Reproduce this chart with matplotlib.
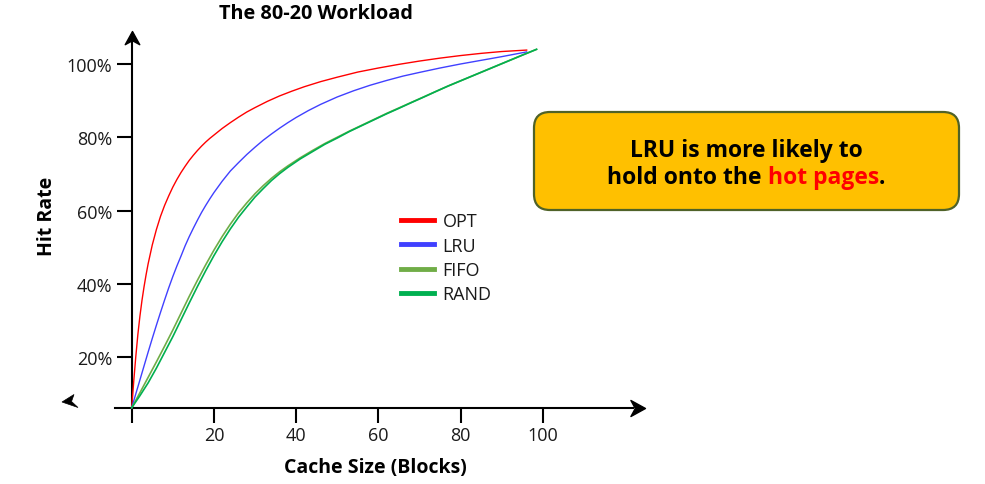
import matplotlib
matplotlib.use('Agg')
import numpy as np
import matplotlib.pyplot as plt
from matplotlib.lines import Line2D
from matplotlib.patches import FancyBboxPatch, Polygon
from matplotlib.offsetbox import TextArea, HPacker, AnnotationBbox
from matplotlib.path import Path
from matplotlib.transforms import IdentityTransform

plt.rcParams['font.family'] = ['Open Sans', 'DejaVu Sans']

# ---------------- data ----------------
series_names = ['OPT', 'LRU', 'FIFO', 'RAND']

opt_x = [0, 0.5, 1, 1.5, 2, 2.5, 3, 3.5, 4, 5, 6, 7, 8, 9, 10, 11, 12, 13,
         14, 15, 16, 17, 18, 19, 20, 22, 24, 26, 28, 30, 33, 36, 39, 42, 46,
         50, 55, 60, 65, 70, 75, 80, 85, 90, 96.1]
opt_y = [6.2, 13.5, 20.2, 26.2, 31.2, 35.5, 39.2, 42.5, 45.5, 50.6, 54.8,
         58.4, 61.4, 64, 66.4, 68.5, 70.4, 72.1, 73.7, 75.1, 76.4, 77.6, 78.7,
         79.7, 80.6, 82.4, 84.0, 85.5, 86.9, 88.1, 89.8, 91.3, 92.6, 93.8,
         95.2, 96.4, 97.8, 98.9, 99.9, 100.8, 101.6, 102.3, 102.9, 103.4,
         103.8]

lru_x = [0, 1, 2, 3, 4, 5, 6, 7, 8, 9, 10, 11, 12, 13, 14, 15, 16, 17, 18, 19,
         20, 22, 24, 26, 28, 30, 32, 34, 36, 38, 40, 43, 46, 50, 54, 58, 62,
         66, 70, 75, 80, 85, 90, 96.1]
lru_y = [6.2, 10.0, 13.8, 17.6, 21.4, 25.1, 28.7, 32.2, 35.6, 38.9, 42.0,
         44.9, 47.6, 50.4, 52.9, 55.2, 57.4, 59.5, 61.4, 63.2, 64.9, 68.0,
         70.8, 73.1, 75.3, 77.3, 79.2, 80.9, 82.5, 84.0, 85.4, 87.3, 89.0,
         91.0, 92.7, 94.2, 95.5, 96.7, 97.7, 98.9, 100.0, 101.0, 102.0, 103.3]

fifo_x = [0, 2, 4, 6, 8, 10, 12, 14, 16, 18, 20, 22, 24, 26, 28, 30, 32, 34,
          36, 38, 41, 44, 47, 50, 53, 56, 59, 62, 65, 68, 71, 74, 77, 80, 83,
          86, 89, 92, 95, 98.5]
fifo_y = [6.2, 10.3, 14.5, 18.7, 23, 27.4, 32, 36.6, 41.0, 45.2, 49.2, 52.9,
          56.3, 59.4, 62.1, 64.6, 66.8, 68.8, 70.6, 72.2, 74.4, 76.4, 78.3,
          80.0, 81.7, 83.3, 84.9, 86.5, 88.0, 89.5, 91.0, 92.5, 94.0, 95.4,
          96.8, 98.2, 99.6, 101.0, 102.4, 104]

rand_x = [0, 2, 4, 6, 8, 10, 12, 14, 16, 18, 20, 22, 24, 26, 28, 30, 32, 34,
          36, 38, 41, 44, 47, 50, 53, 56, 59, 62, 65, 68, 71, 74, 77, 80, 83,
          86, 89, 92, 95, 98.5]
rand_y = [6.2, 9.5, 13.0, 17.0, 21.3, 25.6, 30.2, 34.8, 39.3, 43.6, 47.7,
          51.5, 55.0, 58.2, 61.0, 63.7, 66.0, 68.2, 70.1, 71.8, 74.1, 76.1,
          78.1, 79.8, 81.6, 83.2, 84.8, 86.4, 87.9, 89.45, 90.95, 92.5, 94.0,
          95.4, 96.8, 98.2, 99.6, 101.0, 102.4, 104]

x_ticks = [0, 20, 40, 60, 80, 100]
x_tick_labels = ['', '20', '40', '60', '80', '100']
y_ticks = [20, 40, 60, 80, 100]
y_tick_labels = ['20%', '40%', '60%', '80%', '100%']

title = 'The 80-20 Workload'
x_label = 'Cache Size (Blocks)'
y_label = 'Hit Rate'
note_line1 = 'LRU is more likely to'
note_line2 = ['hold onto the ', 'hot pages', '.']

# ---------------- figure / axes geometry (pixels) ----------------
W, H = 985, 485
fig = plt.figure(figsize=(W / 100, H / 100), dpi=100)

X0_PX, X_PER = 131.7, 4.11      # pixel of x=0, pixels per x unit
Y0_PX, Y_PER = 431.5, 3.665     # pixel (from top) of y=0, pixels per y unit
XLIM = (-4, 125)
YLIM = (-2, 110)
left_px = X0_PX + XLIM[0] * X_PER
right_px = X0_PX + XLIM[1] * X_PER
bottom_px = Y0_PX - YLIM[0] * Y_PER
top_px = Y0_PX - YLIM[1] * Y_PER
ax = fig.add_axes([left_px / W, 1 - bottom_px / H,
                   (right_px - left_px) / W, (bottom_px - top_px) / H])
ax.set_xlim(*XLIM)
ax.set_ylim(*YLIM)
ax.patch.set_visible(False)

AXIS_Y = 6.2
for s in ('top', 'right'):
    ax.spines[s].set_visible(False)
ax.spines['left'].set_position(('data', 0))
ax.spines['bottom'].set_position(('data', AXIS_Y))
ax.spines['left'].set_bounds(AXIS_Y, 106.5)
ax.spines['bottom'].set_bounds(-4, 122)
for s in ('left', 'bottom'):
    ax.spines[s].set_linewidth(1.5)
    ax.spines[s].set_color('black')

ax.set_xticks(x_ticks)
ax.set_xticklabels(x_tick_labels)
ax.set_yticks(y_ticks)
ax.set_yticklabels(y_tick_labels)
ax.tick_params(axis='both', direction='out', length=11, width=1.5,
               colors='black', labelcolor='#1a1a1a', labelsize=13)
ax.tick_params(axis='x', pad=2)
ax.tick_params(axis='y', pad=3)


def stealth(dx, dy):
    # arrow head with its tip at the marker origin, pointing along (dx, dy)
    pts = np.array([(0, 0), (-1, -0.55), (-0.7, 0), (-1, 0.55), (0, 0)])
    ang = np.arctan2(dy, dx)
    c, s = np.cos(ang), np.sin(ang)
    rot = pts @ np.array([[c, s], [-s, c]])
    return Path(rot, [Path.MOVETO, Path.LINETO, Path.LINETO, Path.LINETO,
                      Path.CLOSEPOLY])


ax.plot([124.9], [AXIS_Y], marker=stealth(1, 0), ms=21, color='black',
        mec='black', clip_on=False, zorder=5)
ax.plot([0], [109], marker=stealth(0, 1), ms=19, color='black',
        mec='black', clip_on=False, zorder=5)

# stray arrow head at lower left
pix = [(62, 403), (74, 395.5), (71.5, 402.5), (78, 408.5)]
fig.add_artist(Polygon([(px / W, 1 - py / H) for px, py in pix], closed=True,
                       facecolor='black', edgecolor='black', lw=0.5,
                       transform=fig.transFigure))

# ---------------- curves ----------------
ax.plot(opt_x, opt_y, color='#FF0000', lw=1.0, zorder=3)
ax.plot(lru_x, lru_y, color='#4040FF', lw=1.0, zorder=3)
ax.plot(fifo_x, fifo_y, color='#70AD47', lw=1.2, zorder=3)
ax.plot(rand_x, rand_y, color='#00B050', lw=1.2, zorder=3)

handles = [Line2D([], [], color=c, lw=3.5) for c in
           ['#FF0000', '#4040FF', '#70AD47', '#00B050']]
fig.legend(handles, series_names, loc='upper left',
           bbox_to_anchor=(401 / W, 1 - 213 / H), frameon=False,
           fontsize=13, handlelength=1.85, handletextpad=0.45,
           labelspacing=0.36, borderpad=0, borderaxespad=0,
           labelcolor='#1a1a1a')

# ---------------- texts ----------------
fig.text(316 / W, 1 - 14 / H, title, ha='center', va='center',
         fontsize=14.3, fontweight='bold', color='black')
fig.text(375 / W, 1 - 468 / H, x_label, ha='center', va='center',
         fontsize=14, fontweight='bold', color='black')
fig.text(47 / W, 1 - 216 / H, y_label, ha='center', va='center',
         rotation=90, fontsize=14, fontweight='bold', color='black')

# ---------------- note box ----------------
bx0, by0, bx1, by1 = 534, 113, 959, 211
box = FancyBboxPatch((bx0, H - by1), bx1 - bx0, by1 - by0,
                     boxstyle='round,pad=0,rounding_size=16',
                     facecolor='#FFC000', edgecolor='#4F6228', lw=1.6,
                     transform=IdentityTransform())
fig.add_artist(box)
cx = (bx0 + bx1) / 2
fig.text(cx / W, 1 - 151 / H, note_line1, ha='center', va='center',
         fontsize=16.5, fontweight='bold', color='black')
parts = [TextArea(t, textprops=dict(fontsize=16.5, fontweight='bold', color=c))
         for t, c in zip(note_line2, ['black', '#FF0000', 'black'])]
pack = HPacker(children=parts, sep=0, pad=0, align='baseline')
ab = AnnotationBbox(pack, (cx, H - 178), xycoords='figure pixels',
                    frameon=False, box_alignment=(0.5, 0.5), pad=0)
fig.add_artist(ab)

fig.savefig('out.png', dpi=100)
